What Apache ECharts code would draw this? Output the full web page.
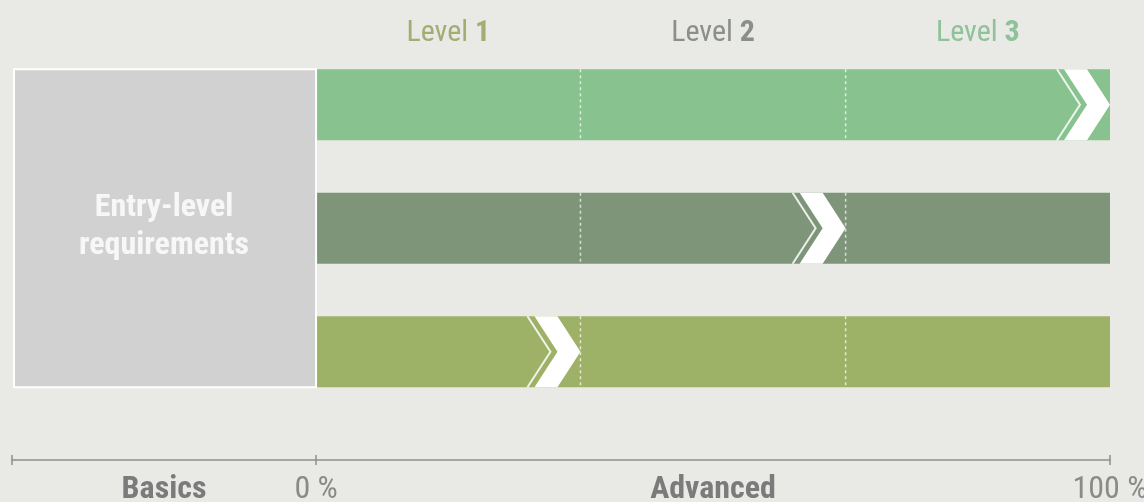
<!DOCTYPE html>
<html lang="en">
<head>
    <meta charset="UTF-8">
    <title>Entry-level and advanced levels</title>
    <script src="https://cdn.jsdelivr.net/npm/echarts@6/dist/echarts.min.js"></script>
    <style>
        html, body {
            margin: 0;
            padding: 0;
            background-color: #e9eae5;
        }
        #chart-container {
            width: 1144px;
            height: 502px;
        }
    </style>
</head>
<body>
    <div id="chart-container"></div>

    <script>
        // data
        var rows = ['Track 3', 'Track 2', 'Track 1'];          // top to bottom
        var trackEnd = [100, 100, 100];                          // every track runs to 100 %
        var progress = [100, 66.7, 33.3];                        // where each chevron sits
        var levelNames = ['Level 1', 'Level 2', 'Level 3'];
        var levelBounds = [0, 33.3, 66.7, 100];
        var basicsRange = [-38.3, 0];
        var sectionNames = ['Basics', 'Advanced'];
        var percentTicks = [0, 100];
        var basicsText = 'Entry-level\nrequirements';

        // styles
        var font = '"Roboto Condensed", "Open Sans Condensed", Roboto, sans-serif';
        var trackColors = ['#87c28f', '#7e957a', '#9db266'];
        var levelColors = ['#a5ab73', '#8b8f89', '#8fc19b'];
        var axisColor = '#8f8f8f';
        var barRatio = 0.575;

        var chartDom = document.getElementById('chart-container');
        var myChart = echarts.init(chartDom);

        var levelMids = [];
        for (var i = 0; i < levelNames.length; i++) {
            levelMids.push((levelBounds[i] + levelBounds[i + 1]) / 2);
        }
        var sectionMids = [(basicsRange[0] + basicsRange[1]) / 2, (levelBounds[0] + levelBounds[3]) / 2];

        function nearestIndex(list, v) {
            var best = 0;
            for (var i = 1; i < list.length; i++) {
                if (Math.abs(list[i] - v) < Math.abs(list[best] - v)) best = i;
            }
            return best;
        }

        // rich styles for the level titles
        var levelRich = {};
        levelColors.forEach(function (c, i) {
            levelRich['n' + i] = { color: c, fontSize: 30, fontFamily: font };
            levelRich['b' + i] = { color: c, fontSize: 30, fontFamily: font, fontWeight: 'bold' };
        });

        var dividerData = [];
        rows.forEach(function (r, ri) {
            for (var k = 1; k < levelBounds.length - 1; k++) dividerData.push([levelBounds[k], ri]);
        });

        var option = {
            backgroundColor: '#e9eae5',
            animation: false,
            grid: { left: 12, right: 34, top: 43, height: 370.5, containLabel: false, outerBoundsMode: 'none' },
            xAxis: [
                {
                    type: 'value', position: 'bottom', offset: 46.5,
                    min: basicsRange[0], max: levelBounds[3],
                    splitLine: { show: false },
                    axisLine: { show: true, onZero: false, lineStyle: { color: axisColor, width: 1.5 } },
                    axisTick: { show: true, customValues: [basicsRange[0], 0, 100], length: 5, lineStyle: { color: axisColor, width: 1.5 } },
                    axisLabel: {
                        customValues: percentTicks, margin: 14,
                        formatter: function (v) { return Math.round(v) + ' %'; },
                        color: '#8a8a8a', fontSize: 32, fontFamily: font
                    }
                },
                {
                    type: 'value', position: 'bottom', offset: 46.5,
                    min: basicsRange[0], max: levelBounds[3],
                    splitLine: { show: false },
                    axisLine: { show: false },
                    axisTick: { show: true, inside: true, customValues: [basicsRange[0], 0, 100], length: 5, lineStyle: { color: axisColor, width: 1.5 } },
                    axisLabel: {
                        customValues: sectionMids, margin: 14,
                        formatter: function (v) { return sectionNames[nearestIndex(sectionMids, v)]; },
                        color: '#7b7b7b', fontSize: 32, fontWeight: 'bold', fontFamily: font
                    }
                },
                {
                    type: 'value', position: 'top', offset: 0,
                    min: basicsRange[0], max: levelBounds[3],
                    splitLine: { show: false },
                    axisLine: { show: false },
                    axisTick: { show: false },
                    axisLabel: {
                        customValues: levelMids, margin: -5,
                        formatter: function (v) {
                            var i = nearestIndex(levelMids, v);
                            var parts = levelNames[i].split(' ');
                            return '{n' + i + '|' + parts[0] + ' }{b' + i + '|' + parts[1] + '}';
                        },
                        rich: levelRich
                    }
                }
            ],
            yAxis: {
                type: 'category', data: rows, inverse: true,
                axisLine: { show: false }, axisTick: { show: false }, axisLabel: { show: false }
            },
            series: [
                {
                    name: 'tracks', type: 'bar', silent: true, z: 2,
                    barWidth: (barRatio * 100) + '%',
                    data: trackEnd.map(function (v, i) {
                        return { value: v, itemStyle: { color: trackColors[i] } };
                    })
                },
                {
                    // entry-level block spanning all tracks
                    name: 'basics', type: 'custom', silent: true, z: 3,
                    data: [[basicsRange[0], basicsRange[1]]],
                    renderItem: function (params, api) {
                        var bh = api.size([0, 1])[1] * barRatio;
                        var xl = api.coord([api.value(0), 0])[0];
                        var xr = api.coord([api.value(1), 0])[0];
                        var yt = api.coord([0, 0])[1] - bh / 2;
                        var yb = api.coord([0, rows.length - 1])[1] + bh / 2;
                        return {
                            type: 'group',
                            children: [
                                {
                                    type: 'rect',
                                    shape: { x: xl + 2, y: yt, width: xr - xl - 2, height: yb - yt },
                                    style: { fill: '#d1d1d1', stroke: '#ffffff', lineWidth: 2 }
                                },
                                {
                                    type: 'text',
                                    x: (xl + xr) / 2, y: (yt + yb) / 2 - 1,
                                    style: {
                                        text: basicsText, fill: '#f7f7f7', align: 'center', verticalAlign: 'middle',
                                        font: 'bold 32px ' + font, lineHeight: 38
                                    }
                                }
                            ]
                        };
                    }
                },
                {
                    name: 'dividers', type: 'custom', silent: true, z: 10,
                    data: dividerData,
                    renderItem: function (params, api) {
                        var bh = api.size([0, 1])[1] * barRatio;
                        var p = api.coord([api.value(0), api.value(1)]);
                        return {
                            type: 'line',
                            shape: { x1: p[0], y1: p[1] - bh / 2, x2: p[0], y2: p[1] + bh / 2 },
                            style: { stroke: 'rgba(255,255,255,0.7)', lineWidth: 1.5, lineDash: [3, 3] }
                        };
                    }
                },
                {
                    name: 'chevrons', type: 'custom', silent: true, z: 11,
                    data: progress.map(function (v, i) { return [v, i]; }),
                    renderItem: function (params, api) {
                        var bh = api.size([0, 1])[1] * barRatio;
                        var p = api.coord([api.value(0), api.value(1)]);
                        var tip = p[0], cy = p[1], top = cy - bh / 2, bot = cy + bh / 2;
                        var dx = 23, t = 23, gap = 7;
                        return {
                            type: 'group',
                            children: [
                                {
                                    type: 'polygon',
                                    shape: { points: [[tip - dx - t, top], [tip - dx, top], [tip, cy], [tip - dx, bot], [tip - dx - t, bot], [tip - t, cy]] },
                                    style: { fill: '#ffffff' }
                                },
                                {
                                    type: 'polyline',
                                    shape: { points: [[tip - dx - t - gap, top], [tip - t - gap, cy], [tip - dx - t - gap, bot]] },
                                    style: { stroke: 'rgba(255,255,255,0.85)', lineWidth: 2, fill: null }
                                }
                            ]
                        };
                    }
                }
            ]
        };

        myChart.setOption(option);
    </script>
</body>
</html>
